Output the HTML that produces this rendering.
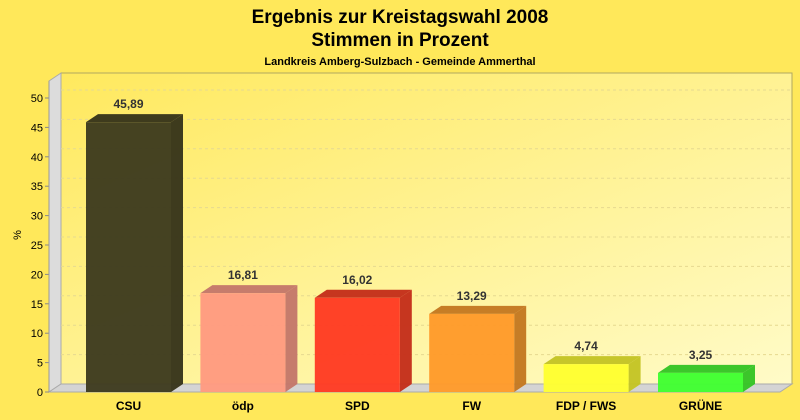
<!DOCTYPE html>
<html><head><meta charset="utf-8"><style>
body{margin:0;background:#ffe85a;}
svg{display:block;font-family:"Liberation Sans",sans-serif;}
</style></head><body>
<svg width="800" height="420">
<defs>
<linearGradient id="wall" x1="0" y1="0" x2="1" y2="1">
<stop offset="0" stop-color="#ffe95e"/><stop offset="1" stop-color="#fffbc8"/>
</linearGradient>
</defs>
<rect width="800" height="420" fill="#ffe85a"/>
<text x="400" y="23" text-anchor="middle" font-size="19" font-weight="bold">Ergebnis zur Kreistagswahl 2008</text>
<text x="400" y="46" text-anchor="middle" font-size="19" font-weight="bold">Stimmen in Prozent</text>
<text x="400" y="65" text-anchor="middle" font-size="11" font-weight="bold">Landkreis Amberg-Sulzbach - Gemeinde Ammerthal</text>
<g id="plot"></g>
<text x="21" y="235" text-anchor="middle" font-size="11" transform="rotate(-90 21 235)">%</text>
</svg>
<script>
const categories=["CSU","ödp","SPD","FW","FDP / FWS","GRÜNE"];
const values=[45.89,16.81,16.02,13.29,4.74,3.25];
const labels=["45,89","16,81","16,02","13,29","4,74","3,25"];
const colors=["#3d3a1e","#ff9a80","#ff3a22","#ff9a2a","#ffff30","#40ff30"];
const sides=["#36331a","#c4776a","#c42e1a","#c47820","#c4c424","#34c424"];
const ticks=[0,5,10,15,20,25,30,35,40,45,50];
const X0=49,Y0=392,DX=12,DY=-8,K=5.88,XR=780,YTOP=81;
const y=v=>Y0-v*K;
const xb=i=>86+i*114.4;
const g=document.getElementById('plot');
const NS="http://www.w3.org/2000/svg";
function add(tag,at,parent){const e=document.createElementNS(NS,tag);for(const k in at)e.setAttribute(k,at[k]);(parent||g).appendChild(e);return e;}
let e;
e=add('polygon',{points:`${X0+DX},${YTOP+DY} ${XR+DX},${YTOP+DY} ${XR+DX},${Y0+DY} ${X0+DX},${Y0+DY}`,fill:'url(#wall)',stroke:'#b0a860'});


e=add('polygon',{points:`${X0},${YTOP} ${X0+DX},${YTOP+DY} ${X0+DX},${Y0+DY} ${X0},${Y0}`,fill:'#dcdcdc',stroke:'#aaa'});


e=add('polygon',{points:`${X0},${Y0} ${X0+DX},${Y0+DY} ${XR+DX},${Y0+DY} ${XR},${Y0}`,fill:'#d4d4d4',stroke:'#aaa'});


ticks.forEach(t=>{
 if(t>0){e=add('line',{x1:X0+DX,x2:XR+DX,y1:y(t)+DY,y2:y(t)+DY,stroke:'#e6d990','stroke-dasharray':'3,3'});
 
 }
 e=add('line',{x1:X0-4,x2:X0,y1:y(t),y2:y(t),stroke:'#888'});
 
 
 e=add('text',{x:X0-6,y:y(t)+4,'text-anchor':'end','font-size':11});
 e.textContent=t;
 
 
});
e=add('line',{x1:X0,x2:X0,y1:YTOP,y2:Y0,stroke:'#999'});


values.forEach((v,i)=>{
 const x=xb(i),w=85,t=y(v);
 const bg=add('g',{});
 
 
 add('polygon',{points:`${x},${t} ${x+DX},${t+DY} ${x+w+DX},${t+DY} ${x+w},${t}`,fill:sides[i],opacity:0.96},bg);
 add('polygon',{points:`${x+w},${t} ${x+w+DX},${t+DY} ${x+w+DX},${Y0+DY} ${x+w},${Y0}`,fill:sides[i],opacity:0.96},bg);
 add('rect',{x:x,y:t,width:w,height:Y0-t,fill:colors[i],opacity:0.96},bg);
 e=add('text',{x:x+w/2,y:t+DY-6,'text-anchor':'middle','font-size':12,'font-weight':'bold',fill:'#333'});
 e.textContent=labels[i];
 
 
 e=add('text',{x:x+w/2,y:410,'text-anchor':'middle','font-size':12,'font-weight':'bold'});
 e.textContent=categories[i];
 
 
});
</script>
</body></html>
